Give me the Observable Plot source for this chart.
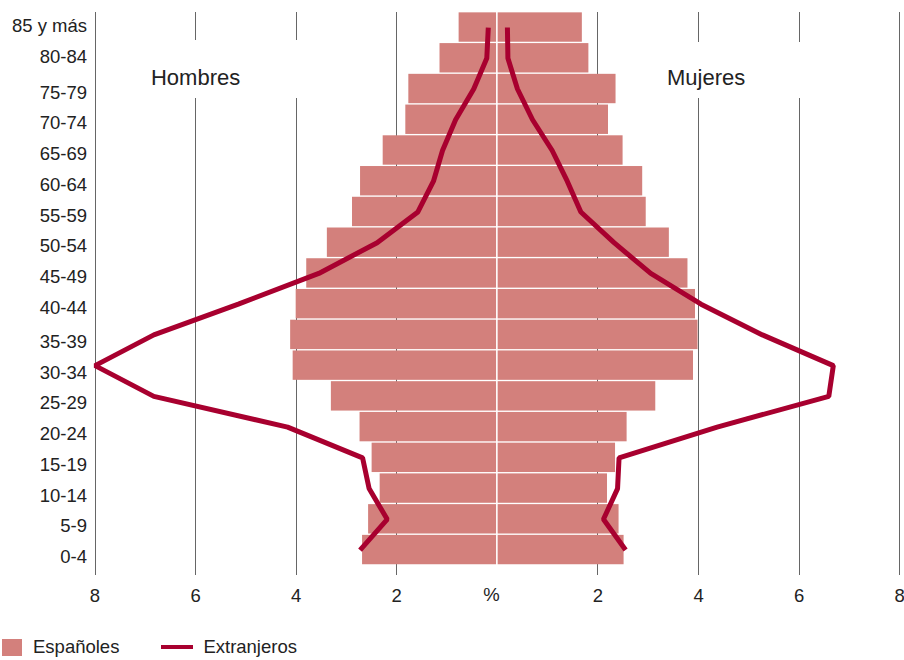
<!DOCTYPE html>
<html>
<head>
<meta charset="utf-8">
<script src="https://cdn.jsdelivr.net/npm/d3@7"></script>
<script src="https://cdn.jsdelivr.net/npm/@observablehq/plot@0.6"></script>
<style>
  body { margin: 0; background: #fff; font-family: "Liberation Sans", Arial, sans-serif; color: #222; }
  #chart svg { display: block; }
  .legend { display: flex; align-items: center; height: 20px; margin-top: 22px; font-size: 18.5px; color: #222; }
  .sw-box { width: 20px; height: 17px; background: #D3807C; margin-left: 2px; margin-right: 11px; }
  .sw-line { width: 32px; height: 4px; background: #A8002F; margin-left: 42px; margin-right: 10px; }
</style>
</head>
<body>
<div id="chart"></div>
<div class="legend">
  <span class="sw-box"></span><span>Españoles</span>
  <span class="sw-line"></span><span>Extranjeros</span>
</div>
<script>
const ages = ["85 y más","80-84","75-79","70-74","65-69","60-64","55-59","50-54","45-49","40-44","35-39","30-34","25-29","20-24","15-19","10-14","5-9","0-4"];
const espHombres = [0.76,1.14,1.76,1.82,2.27,2.72,2.88,3.38,3.79,4.00,4.11,4.06,3.30,2.73,2.49,2.33,2.56,2.68];
const espMujeres = [1.69,1.82,2.36,2.21,2.50,2.89,2.96,3.42,3.79,3.94,3.99,3.90,3.15,2.58,2.35,2.19,2.42,2.52];
const extHombres = [0.18,0.21,0.47,0.83,1.09,1.27,1.58,2.39,3.55,5.15,6.83,8.00,6.83,4.17,2.68,2.55,2.19,2.73];
const extMujeres = [0.20,0.21,0.40,0.70,1.09,1.39,1.66,2.32,3.05,4.05,5.27,6.68,6.59,4.37,2.42,2.39,2.11,2.55];
const tickValues = [-8,-6,-4,-2,2,4,6,8];
const brokenTicks = [-6,-4,4,6];
const sexLabels = [{label: "Hombres", x: -6}, {label: "Mujeres", x: 4.15}];

const rows = ages.map((a, i) => ({
  age: a,
  espH: espHombres[i], espM: espMujeres[i],
  extH: extHombres[i], extM: extMujeres[i]
}));

const BAR = "#D3807C";
const LINE = "#A8002F";
const H = 615;

function grid(index, scales, values, dimensions) {
  const top = dimensions.marginTop;
  const bottom = dimensions.height - dimensions.marginBottom;
  const g = d3.create("svg:g").attr("stroke", "#666").attr("stroke-width", 1);
  for (const v of tickValues) {
    const x = Math.round(scales.x(v)) + 0.5;
    const segs = brokenTicks.includes(v)
      ? [[top, v < 0 ? 40 : 42], [98, bottom]]
      : [[top, bottom]];
    for (const [y1, y2] of segs) {
      g.append("line").attr("x1", x).attr("x2", x).attr("y1", y1).attr("y2", y2);
    }
  }
  return g.node();
}

const yAxisOpts = {tickSize: 0, tickPadding: 8, label: null};

const chart = Plot.plot({
  width: 904,
  height: H,
  marginTop: 12,
  marginBottom: H - 575,
  marginLeft: 94.5,
  marginRight: 4.8,
  style: {fontFamily: "Liberation Sans, Arial, sans-serif", fontSize: "18.5px", color: "#222", background: "#fff"},
  x: {domain: [-8, 8]},
  y: {domain: ages, range: [11, 565.6], padding: 0.044, round: false},
  marks: [
    grid,
    Plot.barX(rows, {x: d => -d.espH, y: "age", fill: BAR, insetRight: 0.8}),
    Plot.barX(rows, {x: "espM", y: "age", fill: BAR, insetLeft: 0.8}),
    Plot.line(rows, {x: d => -d.extH, y: "age", stroke: LINE, strokeWidth: 5, strokeLinejoin: "miter", strokeLinecap: "butt", curve: "linear"}),
    Plot.line(rows, {x: "extM", y: "age", stroke: LINE, strokeWidth: 5, strokeLinejoin: "miter", strokeLinecap: "butt", curve: "linear"}),
    Plot.axisY({...yAxisOpts, ticks: ages.slice(0, 2), dy: -1}),
    Plot.axisY({...yAxisOpts, ticks: ages.slice(2, 10), dy: 3.8}),
    Plot.axisY({...yAxisOpts, ticks: ages.slice(10), dy: 7}),
    Plot.axisX({ticks: tickValues, tickFormat: d => Math.abs(d), tickSize: 0, tickPadding: 13, label: null}),
    Plot.text(["%"], {x: 0, frameAnchor: "bottom", dy: 20, dx: -6, text: d => d, fill: "#222", lineAnchor: "middle"}),
    Plot.text(sexLabels, {x: "x", text: "label", frameAnchor: "top", dy: 65, fontSize: 22, fill: "#222", lineAnchor: "middle"})
  ]
});
document.getElementById("chart").appendChild(chart);
</script>
</body>
</html>
